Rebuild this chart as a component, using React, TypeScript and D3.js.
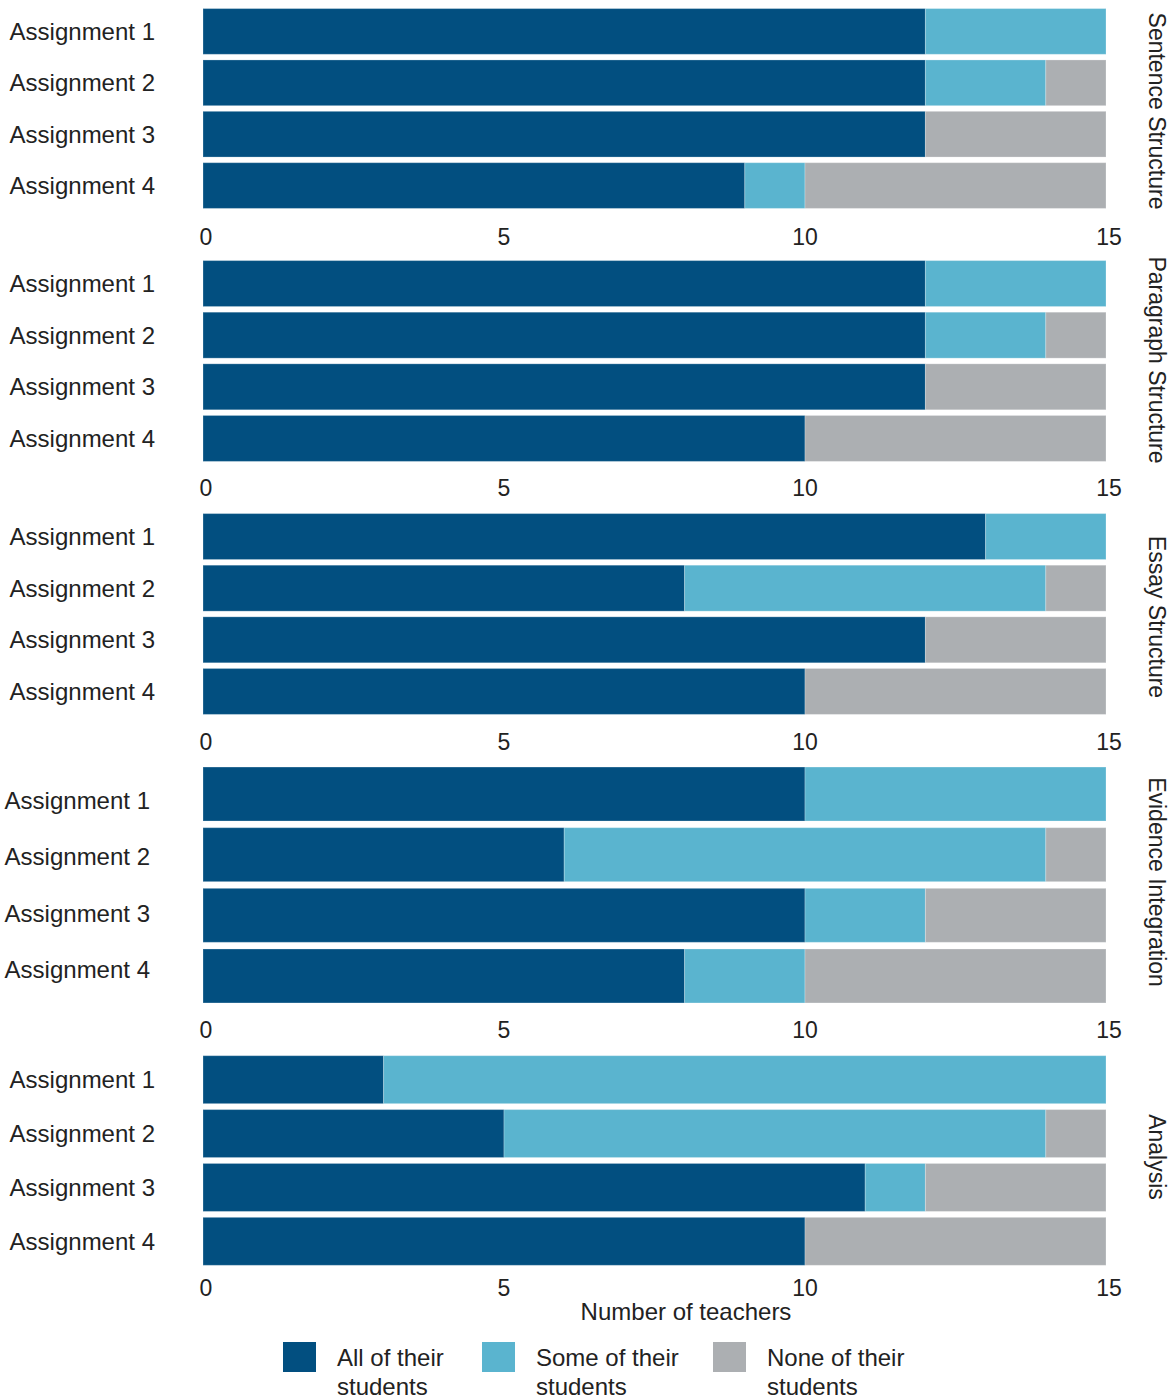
import React from "react";
import * as d3 from "d3";

const assignments = ["Assignment 1", "Assignment 2", "Assignment 3", "Assignment 4"];
const facets = ["Sentence Structure", "Paragraph Structure", "Essay Structure", "Evidence Integration", "Analysis"];
const seriesNames = ["All of their students", "Some of their students", "None of their students"];
const seriesColors = ["#024f80", "#5ab4cf", "#acafb2"];

// values per facet, per assignment: [all, some, none]
const allValues = [
  [12, 12, 12, 9],
  [12, 12, 12, 10],
  [13, 8, 12, 10],
  [10, 6, 10, 8],
  [3, 5, 11, 10],
];
const someValues = [
  [3, 2, 0, 1],
  [3, 2, 0, 0],
  [2, 6, 0, 0],
  [5, 8, 2, 2],
  [12, 9, 1, 0],
];
const noneValues = [
  [0, 1, 3, 5],
  [0, 1, 3, 5],
  [0, 1, 3, 5],
  [0, 1, 3, 5],
  [0, 1, 3, 5],
];
const xTicks = [0, 5, 10, 15];
const xTitle = "Number of teachers";

// layout per panel
const panelLayout = [
  { y0: 6, y1: 211, tickY: 237, labelX: 155, labelRange: null as null | [number, number], titleY: 111 },
  { y0: 258, y1: 464, tickY: 488, labelX: 155, labelRange: null, titleY: 360 },
  { y0: 511, y1: 717, tickY: 742, labelX: 155, labelRange: null, titleY: 617 },
  { y0: 764, y1: 1006, tickY: 1030, labelX: 150, labelRange: [772, 998] as [number, number], titleY: 882 },
  { y0: 1053, y1: 1268, tickY: 1288, labelX: 155, labelRange: null, titleY: 1157 },
];

const FONT = "'Liberation Sans', Arial, sans-serif";

export default function App() {
  const x = d3.scaleLinear().domain([0, 15]).range([203, 1106]);
  const stack = d3.stack<number[]>().keys(["0", "1", "2"]).value((d, k) => d[+k]);

  const legendX = [283, 482, 713];

  return (
    <svg
      width={1175}
      height={1399}
      style={{ position: "absolute", left: 0, top: 0, background: "#fff" }}
      fontFamily={FONT}
    >
      {facets.map((facet, fi) => {
        const L = panelLayout[fi];
        const y = d3.scaleBand<string>().domain(assignments).range([L.y0, L.y1]).paddingInner(0.11).paddingOuter(0.05);
        const ly = L.labelRange
          ? d3.scaleBand<string>().domain(assignments).range(L.labelRange)
          : y;
        const rows = assignments.map((_, ai) => [allValues[fi][ai], someValues[fi][ai], noneValues[fi][ai]]);
        const stacked = stack(rows);
        return (
          <g key={facet}>
            {stacked.map((layer, si) => (
              <g key={si} fill={seriesColors[si]}>
                {layer.map((seg, ai) =>
                  seg[1] - seg[0] > 0 ? (
                    <rect
                      key={ai}
                      x={x(seg[0])}
                      y={y(assignments[ai])!}
                      width={x(seg[1]) - x(seg[0])}
                      height={y.bandwidth()}
                      stroke="rgba(255,255,255,0.25)"
                      strokeWidth={1}
                    />
                  ) : null
                )}
              </g>
            ))}
            {assignments.map((a) => (
              <text
                key={a}
                x={L.labelX}
                y={ly(a)! + ly.bandwidth() / 2}
                textAnchor="end"
                dominantBaseline="central"
                fontSize={24}
                fill="#222"
              >
                {a}
              </text>
            ))}
            {xTicks.map((t) => (
              <text
                key={t}
                x={x(t) + (t === 0 ? 3 : t === 15 ? 3 : 0)}
                y={L.tickY}
                textAnchor="middle"
                dominantBaseline="central"
                fontSize={23}
                fill="#222"
              >
                {t}
              </text>
            ))}
            <text
              transform={`translate(1157,${L.titleY}) rotate(90)`}
              textAnchor="middle"
              dominantBaseline="central"
              fontSize={23}
              fill="#222"
            >
              {facet}
            </text>
          </g>
        );
      })}
      <text x={686} y={1311} textAnchor="middle" dominantBaseline="central" fontSize={24} fill="#222">
        {xTitle}
      </text>
      {seriesNames.map((name, i) => {
        const words = name.split(" ");
        const line1 = words.slice(0, 3).join(" ");
        const line2 = words.slice(3).join(" ");
        return (
          <g key={name}>
            <rect x={legendX[i]} y={1342} width={33} height={30} fill={seriesColors[i]} />
            <text x={legendX[i] + 54} y={1357} dominantBaseline="central" fontSize={24} fill="#222">
              {line1}
            </text>
            <text x={legendX[i] + 54} y={1386} dominantBaseline="central" fontSize={24} fill="#222">
              {line2}
            </text>
          </g>
        );
      })}
    </svg>
  );
}
